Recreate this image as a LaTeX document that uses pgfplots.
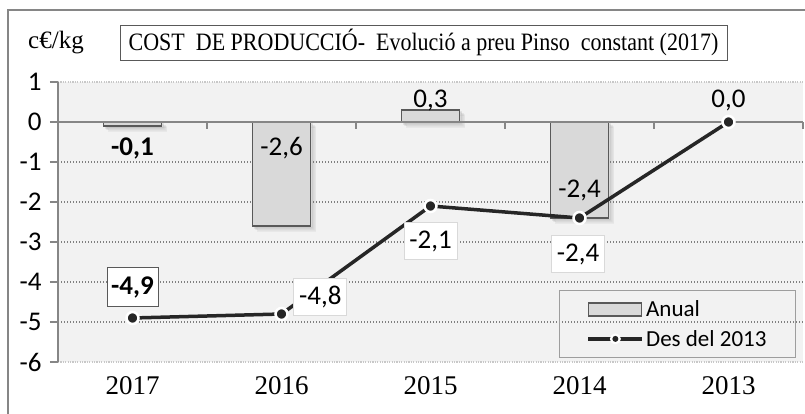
\documentclass[border=0pt]{standalone}
\usepackage{fontspec}
\setmainfont{Carlito}
\newfontfamily\serif{Liberation Serif}
\usepackage{pgfplots}
\pgfplotsset{compat=1.18}
\usetikzlibrary{shadows}
\definecolor{bg}{HTML}{F2F2F2}
\definecolor{barfill}{HTML}{D9D9D9}
\definecolor{bardraw}{HTML}{595959}
\definecolor{axgray}{HTML}{868686}
\definecolor{gridc}{HTML}{808080}
\definecolor{lightc}{HTML}{C8C8C8}
\definecolor{boxc}{HTML}{D9D9D9}
\definecolor{linec}{HTML}{262626}

\begin{document}
\begin{tikzpicture}[x=1pt,y=1pt]
\useasboundingbox (0,0) rectangle (805,413);
\draw[axgray, line width=1.2pt] (8,-5) -- (8,403) -- (815,403);
\node[font=\serif\fontsize{25}{28}\selectfont] at (56,370) {c€/kg};
\node[draw=bardraw, line width=0.9pt, minimum width=607pt, minimum height=35pt, inner sep=0pt,
  font=\serif\fontsize{25}{28}\selectfont] at (423.5,370.5)
  {\scalebox{0.88}[1]{COST\ \ DE PRODUCCIÓ-\ \ Evolució a preu Pinso\ \ constant (2017)}};

\begin{axis}[
  at={(58pt,51pt)}, anchor=south west,
  width=745pt, height=280pt, scale only axis,
  xmin=-0.5, xmax=4.5, ymin=-6, ymax=1,
  clip=false,
  axis background/.style={fill=bg},
  axis line style={draw=none},
  xtick={0,...,4}, xticklabels={2017,2016,2015,2014,2013},
  ytick={-6,...,1}, yticklabels={-6,-5,-4,-3,-2,-1,0,1},
  xtick style={draw=none},
  ytick style={axgray, line width=1.2pt},
  ytick pos=left, xtick pos=bottom,
  tick align=outside, major tick length=8pt,
  xticklabel style={font=\serif\fontsize{27}{30}\selectfont, yshift=-3pt},
  yticklabel style={font=\fontsize{27}{30}\selectfont, xshift=-5pt},
  legend style={at={(0.9906,0.014)}, anchor=south east, draw=axgray!80, fill=none,
    line width=0.9pt, font=\fontsize{23}{26}\selectfont, inner xsep=27pt, inner ysep=8pt,
    row sep=8pt},
  legend cell align=left,
]
% grid lines
\pgfplotsinvokeforeach{-5,-4,-3,-2,-1}{
  \draw[gridc, line width=1.2pt, dash pattern=on 1.2pt off 1.8pt] (axis cs:-0.5,#1) -- (axis cs:4.5,#1);
}
\draw[lightc, line width=1.2pt, dash pattern=on 1.2pt off 1.2pt] (axis cs:-0.5,1) -- (axis cs:4.5,1);
\draw[lightc, line width=1.2pt, dash pattern=on 1.2pt off 1.2pt] (axis cs:-0.5,-6) -- (axis cs:4.5,-6);
\draw[axgray, line width=1.2pt] (axis cs:-0.5,-6) -- (axis cs:-0.5,1);

\addplot[ybar, bar width=58pt, bar shift=0pt, fill=barfill, draw=bardraw, line width=1.3pt,
  drop shadow={shadow xshift=5pt, shadow yshift=-5pt, opacity=0.06},
  drop shadow={shadow xshift=3.5pt, shadow yshift=-3.5pt, opacity=0.08},
  drop shadow={shadow xshift=2pt, shadow yshift=-2pt, opacity=0.1}, forget plot]
  coordinates {(0,-0.1) (1,-2.6) (2,0.3) (3,-2.4)};

\draw[axgray, line width=1.2pt] (axis cs:-0.5,0) -- (axis cs:4.5,0);
\pgfplotsinvokeforeach{0.5,1.5,2.5,3.5,4.5}{
  \draw[axgray, line width=1.2pt] (axis cs:#1,0) -- ++(0pt,-7pt);
}

\addplot[linec, line width=3.5pt, mark=*, mark size=6pt,
  mark options={fill=linec, draw=white, line width=2.5pt}, forget plot]
  coordinates {(0,-4.9) (1,-4.8) (2,-2.1) (3,-2.4) (4,0)};

\addlegendimage{legend image code/.code={\draw[fill=barfill,draw=bardraw,line width=1.3pt] (0pt,-6.5pt) rectangle (53pt,6.5pt);}}
\addlegendentry{Anual}
\addlegendimage{legend image code/.code={\draw[linec,line width=3.5pt] (0pt,0pt) -- (54pt,0pt); \fill[white] (27pt,0pt) circle (5pt); \fill[linec] (27pt,0pt) circle (2.5pt);}}
\addlegendentry{Des del 2013}

% bar labels
\tikzset{lab/.style={font=\fontsize{27}{30}\selectfont}}
\node[lab, font=\bfseries\fontsize{27}{30}\selectfont] at (axis cs:0,-0.65) {-0,1};
\node[lab] at (axis cs:1,-0.65) {-2,6};
\node[lab] at (axis cs:2,0.55) {0,3};
\node[lab] at (axis cs:3,-1.7) {-2,4};
\node[lab] at (axis cs:4,0.55) {0,0};
% line labels
\tikzset{box/.style={lab, fill=white, draw=boxc, line width=0.9pt, minimum width=53pt, minimum height=37pt, inner sep=2pt}}
\node[box, draw=bardraw, minimum width=51pt, minimum height=39pt, font=\bfseries\fontsize{27}{30}\selectfont] at (axis cs:0,-4.125) {-4,9};
\node[box] at (axis cs:1.26,-4.375) {-4,8};
\node[box] at (axis cs:2,-2.975) {-2,1};
\node[box] at (axis cs:2.99,-3.3) {-2,4};
\end{axis}
\end{tikzpicture}
\end{document}
